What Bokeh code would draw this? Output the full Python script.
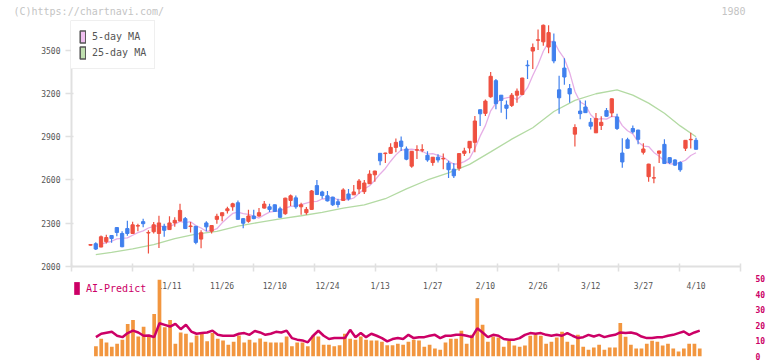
import numpy as np
from bokeh.plotting import figure
from bokeh.models import (ColumnDataSource, FixedTicker, LinearAxis, Range1d,
                          Legend, LegendItem)
from bokeh.layouts import column
from bokeh.embed import file_html
from bokeh.resources import INLINE

# ---------------- data ----------------
tick_labels = ["11/11", "11/26", "12/10", "12/24", "1/13", "1/27",
               "2/10", "2/26", "3/12", "3/27", "4/10"]
tick_label_idx = [15, 25, 35, 45, 55, 65, 75, 85, 95, 105, 115]

opens = [2148, 2158, 2135, 2172, 2215, 2270, 2229, 2263, 2229, 2280,
         2311, 2232, 2241, 2229, 2279, 2256, 2302, 2316, 2332, 2277,
         2279, 2190, 2302, 2245, 2327, 2352, 2387, 2414, 2442, 2332,
         2313, 2350, 2350, 2405, 2414, 2428, 2400, 2366, 2458, 2476,
         2414, 2373, 2396, 2561, 2517, 2490, 2481, 2449, 2458, 2503,
         2497, 2538, 2519, 2574, 2636, 2785, 2783, 2785, 2826, 2870,
         2815, 2696, 2807, 2807, 2771, 2721, 2758, 2746, 2717, 2675,
         2682, 2785, 2822, 2861, 3087, 3062, 3177, 3289, 3188, 3120,
         3117, 3188, 3193, 3396, 3494, 3569, 3558, 3522, 3558, 3225,
         3376, 3234, 2918, 3078, 3106, 3000, 2927, 2978, 3081, 3065,
         3037, 2787, 2879, 2957, 2946, 2792, 2623, 2613, 2785, 2847,
         2755, 2739, 2721, 2820, 2879, 2875]
highs = [2153, 2169, 2215, 2220, 2217, 2272, 2245, 2318, 2311, 2297,
         2332, 2251, 2309, 2352, 2297, 2348, 2341, 2435, 2343, 2309,
         2281, 2251, 2313, 2286, 2366, 2375, 2414, 2442, 2458, 2334,
         2394, 2394, 2405, 2455, 2435, 2430, 2414, 2476, 2499, 2492,
         2442, 2412, 2531, 2600, 2526, 2524, 2483, 2469, 2543, 2538,
         2565, 2607, 2600, 2668, 2664, 2787, 2789, 2854, 2888, 2902,
         2833, 2801, 2840, 2847, 2799, 2760, 2778, 2783, 2733, 2717,
         2785, 2824, 2870, 3044, 3089, 3158, 3349, 3300, 3190, 3152,
         3204, 3234, 3309, 3431, 3547, 3643, 3678, 3673, 3616, 3323,
         3444, 3266, 2986, 3152, 3152, 3030, 3065, 3042, 3099, 3165,
         3060, 2890, 2893, 2978, 2948, 2854, 2712, 2694, 2803, 2882,
         2757, 2744, 2730, 2877, 2928, 2893]
lows = [2146, 2114, 2133, 2160, 2165, 2210, 2133, 2213, 2227, 2245,
        2272, 2091, 2229, 2128, 2206, 2254, 2275, 2314, 2261, 2236,
        2155, 2126, 2245, 2229, 2297, 2313, 2368, 2387, 2325, 2265,
        2304, 2327, 2345, 2403, 2378, 2378, 2339, 2359, 2419, 2400,
        2359, 2359, 2394, 2497, 2469, 2451, 2419, 2409, 2456, 2458,
        2495, 2503, 2503, 2572, 2588, 2703, 2717, 2783, 2792, 2801,
        2737, 2685, 2746, 2792, 2726, 2698, 2721, 2675, 2614, 2614,
        2664, 2767, 2785, 2792, 2975, 3044, 3170, 3090, 3067, 3021,
        3106, 3136, 3188, 3300, 3369, 3501, 3531, 3479, 3410, 3060,
        3261, 3136, 2833, 3021, 3065, 2950, 2925, 2946, 3040, 3037,
        2946, 2684, 2818, 2923, 2847, 2777, 2588, 2577, 2717, 2712,
        2710, 2698, 2657, 2801, 2818, 2811]
closes = [2152, 2121, 2206, 2201, 2194, 2236, 2137, 2229, 2289, 2284,
          2297, 2236, 2289, 2302, 2251, 2302, 2320, 2389, 2263, 2281,
          2167, 2234, 2275, 2284, 2348, 2373, 2400, 2435, 2327, 2300,
          2350, 2332, 2373, 2433, 2396, 2382, 2341, 2474, 2490, 2414,
          2428, 2396, 2524, 2499, 2492, 2455, 2428, 2430, 2531, 2469,
          2517, 2593, 2579, 2641, 2662, 2733, 2787, 2826, 2861, 2833,
          2744, 2799, 2810, 2810, 2739, 2758, 2739, 2749, 2671, 2629,
          2783, 2801, 2868, 3009, 3059, 3147, 3319, 3129, 3152, 3097,
          3188, 3216, 3307, 3392, 3519, 3572, 3673, 3622, 3426, 3170,
          3314, 3197, 2964, 3060, 3067, 2973, 3026, 3000, 3042, 3163,
          2957, 2725, 2820, 2934, 2882, 2815, 2710, 2616, 2801, 2714,
          2721, 2703, 2671, 2875, 2882, 2813]

ma5 = [2155, 2165, 2175, 2192, 2195, 2199, 2217, 2235, 2247, 2267,
       2279, 2282, 2275, 2276, 2293, 2313, 2305, 2311, 2284, 2267,
       2244, 2248, 2262, 2303, 2336, 2368, 2377, 2367, 2362, 2349,
       2336, 2358, 2377, 2383, 2385, 2405, 2417, 2420, 2429, 2440,
       2450, 2452, 2468, 2473, 2480, 2461, 2467, 2463, 2475, 2508,
       2538, 2560, 2598, 2642, 2680, 2730, 2774, 2808, 2810, 2813,
       2809, 2799, 2780, 2783, 2771, 2759, 2731, 2709, 2714, 2727,
       2750, 2818, 2904, 2977, 3080, 3133, 3161, 3169, 3177, 3156,
       3192, 3240, 3324, 3401, 3493, 3556, 3562, 3493, 3441, 3346,
       3214, 3141, 3120, 3052, 3018, 3025, 3022, 3041, 3038, 2977,
       2941, 2920, 2864, 2835, 2832, 2791, 2765, 2731, 2712, 2711,
       2722, 2737, 2770, 2789]
ma5_idx = list(range(2, 116))

ma25_idx = [1, 4, 8, 12, 16, 20, 24, 28, 32, 36, 40, 44, 48, 52, 56, 60,
            64, 68, 72, 76, 80, 84, 88, 92, 96, 100, 103, 106, 109, 112, 115]
ma25 = [2082, 2098, 2122, 2152, 2194, 2225, 2243, 2280, 2306, 2330, 2352,
        2376, 2405, 2428, 2470, 2538, 2600, 2650, 2708, 2795, 2883, 2962,
        3075, 3152, 3198, 3225, 3188, 3133, 3063, 2975, 2900]

volume = [6.5, 11.4, 8.9, 6.3, 8.2, 10.8, 20.9, 23.4, 12.8, 19.0,
          13.3, 27.2, 49.2, 18.8, 23.4, 8.2, 15.4, 14.6, 8.9, 13.5,
          15.0, 9.7, 15.0, 11.4, 10.3, 7.6, 9.5, 13.5, 8.9, 10.8,
          8.9, 11.6, 9.5, 8.9, 8.9, 8.9, 12.8, 6.5, 8.9, 8.9,
          6.5, 13.5, 12.8, 7.6, 7.6, 6.5, 7.2, 14.6, 11.4, 10.8,
          12.8, 10.8, 10.3, 10.3, 9.5, 7.2, 7.2, 8.2, 7.6, 9.5,
          10.8, 10.3, 6.3, 7.6, 5.1, 4.4, 8.9, 11.4, 11.4, 16.5,
          8.2, 13.9, 37.3, 20.3, 9.5, 12.8, 12.2, 6.3, 10.1, 7.0,
          6.3, 7.0, 13.3, 14.1, 13.3, 8.2, 9.5, 12.2, 15.8, 9.5,
          7.6, 13.9, 6.3, 4.4, 5.7, 7.6, 4.4, 5.7, 5.7, 21.5,
          12.7, 7.6, 5.1, 5.1, 8.2, 10.1, 9.5, 7.0, 8.2, 5.1,
          3.2, 5.1, 8.2, 8.2, 5.1]
ai_predict = [12.4, 14.6, 15.2, 15.8, 13.3, 12.4, 15.0, 16.6, 15.4, 13.3,
              13.5, 12.4, 21.3, 20.3, 19.2, 20.9, 17.5, 20.3, 16.0, 14.6,
              15.0, 15.4, 16.6, 13.9, 13.3, 13.3, 13.3, 14.6, 15.0, 13.9,
              16.3, 15.4, 13.9, 14.6, 15.8, 15.4, 16.6, 11.8, 10.8, 10.3,
              9.1, 13.3, 16.5, 13.3, 11.2, 11.8, 11.8, 11.8, 17.1, 12.4,
              15.0, 12.4, 14.6, 13.3, 11.8, 9.7, 11.2, 11.8, 11.2, 13.9,
              11.8, 12.4, 12.4, 13.3, 13.9, 11.8, 13.3, 13.3, 13.9, 13.9,
              13.3, 12.4, 18.1, 15.4, 12.4, 13.9, 13.3, 11.2, 10.8, 10.8,
              11.8, 13.9, 15.0, 14.6, 15.0, 13.9, 13.3, 13.9, 13.3, 15.0,
              13.3, 11.8, 12.4, 13.9, 12.8, 13.9, 12.4, 13.3, 13.9, 15.4,
              15.0, 15.4, 14.6, 12.8, 11.8, 11.8, 12.4, 12.4, 13.3, 13.9,
              15.0, 16.0, 13.9, 15.4, 16.6]
vol_idx = list(range(1, 116))

price_ticks = [2000, 2300, 2600, 2900, 3200, 3500]
vol_ticks = [0, 10, 20, 30, 40, 50]

header_texts = ["(C)https://chartnavi.com/", "1980"]

# ---------------- styling ----------------
UP = "#ef5040"
DOWN = "#4080ee"
GRID = "#e0e0e0"
TXT = "#555555"
MONO = "DejaVu Sans Mono"
CRIMSON = "#cc0066"
ORANGE = "#f2963f"
FAINT = "#c4c4c4"

X0, X1 = -3.61, 123.45
x_range = Range1d(X0, X1)
header_pos = [-0.34, 122.14]   # horizontal centres of the two header texts

# ---------------- header strip (copyright + code) ----------------
hdr = figure(width=764, height=19, output_backend="svg", toolbar_location=None,
             x_range=x_range, y_range=Range1d(0, 1),
             x_axis_type=None, y_axis_type=None,
             min_border_left=71, min_border_right=12, min_border_top=0,
             min_border_bottom=0)
hdr.outline_line_color = None
hdr.grid.visible = False
ha = LinearAxis(ticker=FixedTicker(ticks=header_pos))
ha.major_label_overrides = {k: v for k, v in zip(header_pos, header_texts)}
ha.axis_line_color = None
ha.major_tick_line_color = None
ha.minor_tick_line_color = None
ha.major_tick_in = 0
ha.major_tick_out = 0
ha.major_label_standoff = 0
ha.major_label_text_font = MONO
ha.major_label_text_font_size = "10px"
ha.major_label_text_color = FAINT
hdr.add_layout(ha, "below")

# ---------------- price panel ----------------
idx = list(range(len(opens)))
colors = [UP if c >= o else DOWN for o, c in zip(opens, closes)]
csrc = ColumnDataSource(dict(x=idx, o=opens, h=highs, l=lows, c=closes, color=colors))

p = figure(width=764, height=274, output_backend="svg", toolbar_location=None,
           x_range=x_range, y_range=Range1d(2000, 3706),
           min_border_left=71, min_border_right=12, min_border_top=1,
           min_border_bottom=25)
p.outline_line_color = None
p.grid.visible = False
p.background_fill_color = "white"
p.border_fill_color = "white"

p.line(ma25_idx, ma25, line_color="#b3daa3", line_width=1.3)
p.line(ma5_idx, ma5, line_color="#e6aee6", line_width=1.3)
p.segment(x0="x", y0="l", x1="x", y1="h", line_color="color", line_width=1.2, source=csrc)
p.vbar(x="x", top="o", bottom="c", width=0.62, fill_color="color",
       line_color="color", line_width=1, source=csrc)

ya = p.yaxis[0]
ya.ticker = FixedTicker(ticks=price_ticks)
ya.axis_line_color = GRID
ya.axis_line_width = 2
ya.major_tick_line_color = GRID
ya.major_tick_line_width = 1.5
ya.major_tick_in = 2
ya.major_tick_out = 6
ya.minor_tick_line_color = None
ya.major_label_text_font = MONO
ya.major_label_text_font_size = "8px"
ya.major_label_text_color = TXT
ya.major_label_standoff = 5

xa = p.xaxis[0]
marks = list(np.linspace(X0, X1, 12))
xa.ticker = FixedTicker(ticks=tick_label_idx, minor_ticks=marks)
xa.major_label_overrides = {k: v for k, v in zip(tick_label_idx, tick_labels)}
xa.axis_line_color = GRID
xa.axis_line_width = 2
xa.major_tick_line_color = None
xa.major_tick_in = 0
xa.major_tick_out = 0
xa.minor_tick_line_color = GRID
xa.minor_tick_line_width = 1.5
xa.minor_tick_in = 3
xa.minor_tick_out = 5
xa.major_label_text_font = MONO
xa.major_label_text_font_size = "8px"
xa.major_label_text_color = TXT
xa.major_label_standoff = 10

nan = [float("nan")]
sw5 = p.quad(left=nan, right=nan, top=nan, bottom=nan,
             fill_color="#f0c0f0", line_color="#555555", line_width=1.5)
sw25 = p.quad(left=nan, right=nan, top=nan, bottom=nan,
              fill_color="#c0e0b0", line_color="#555555", line_width=1.5)
leg = Legend(items=[LegendItem(label="5-day MA", renderers=[sw5]),
                    LegendItem(label="25-day MA", renderers=[sw25])],
             location=(-1, 197), glyph_width=7, glyph_height=15, label_height=15,
             spacing=1, padding=8, margin=0, label_standoff=6,
             label_text_font=MONO, label_text_font_size="10px",
             label_text_color=TXT, border_line_color=GRID, border_line_width=1.5,
             background_fill_color="white", background_fill_alpha=1.0)
p.add_layout(leg)

# ---------------- volume / AI panel ----------------
vsrc = ColumnDataSource(dict(x=vol_idx, v=volume, a=ai_predict))
pv = figure(width=768, height=91, output_backend="svg", toolbar_location=None,
            x_range=x_range, y_range=Range1d(0, 53.85),
            x_axis_type=None, y_axis_type=None,
            min_border_left=71, min_border_right=16, min_border_top=2,
            min_border_bottom=5, margin=(-23, 0, 0, 0))
pv.outline_line_color = None
pv.grid.visible = False
pv.background_fill_color = None
pv.border_fill_color = None

pv.vbar(x="x", top="v", bottom=0, width=0.7, fill_color=ORANGE,
        line_color=None, source=vsrc)
pv.line(x="x", y="a", line_color=CRIMSON, line_width=2.5, source=vsrc)

ra = LinearAxis(ticker=FixedTicker(ticks=vol_ticks))
ra.axis_line_color = None
ra.major_tick_line_color = None
ra.minor_tick_line_color = None
ra.major_label_standoff = 5
ra.major_label_text_font = MONO
ra.major_label_text_font_size = "8px"
ra.major_label_text_font_style = "bold"
ra.major_label_text_color = CRIMSON
pv.add_layout(ra, "right")

swai = pv.quad(left=nan, right=nan, top=nan, bottom=nan,
               fill_color=CRIMSON, line_color=None)
leg2 = Legend(items=[LegendItem(label="AI-Predict", renderers=[swai])],
              location=(2, 60), glyph_width=7, glyph_height=16, label_height=16,
              padding=3, margin=0, label_standoff=6,
              label_text_font=MONO, label_text_font_size="10px",
              label_text_color=CRIMSON, border_line_color=None,
              background_fill_alpha=0.0)
pv.add_layout(leg2)

layout = column(hdr, p, pv, spacing=0)
open("out.html", "w").write(file_html(layout, INLINE))
